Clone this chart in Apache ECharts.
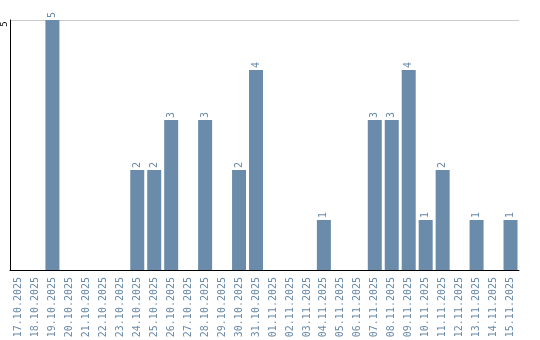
<!DOCTYPE html>
<html><head><meta charset="utf-8">
<script src="https://cdn.jsdelivr.net/npm/echarts@6/dist/echarts.min.js"></script>
<style>html,body{margin:0;padding:0;background:#fff}#c{width:540px;height:340px}</style>
</head><body><div id="c"></div>
<script>
const categories = ["17.10.2025","18.10.2025","19.10.2025","20.10.2025","21.10.2025","22.10.2025","23.10.2025","24.10.2025","25.10.2025","26.10.2025","27.10.2025","28.10.2025","29.10.2025","30.10.2025","31.10.2025","01.11.2025","02.11.2025","03.11.2025","04.11.2025","05.11.2025","06.11.2025","07.11.2025","08.11.2025","09.11.2025","10.11.2025","11.11.2025","12.11.2025","13.11.2025","14.11.2025","15.11.2025"];
const counts = [0,0,5,0,0,0,0,2,2,3,0,3,0,2,4,0,0,0,1,0,0,3,3,4,1,2,0,1,0,1];
const yTicks = [0,5];

const chart = echarts.init(document.getElementById('c'));
chart.setOption({
  animation: false,
  grid: { left: 10, right: 21, top: 20, bottom: 70, outerBoundsMode: 'none', containLabel: false },
  xAxis: {
    type: 'category', data: categories,
    axisLine: { lineStyle: { color: '#000', width: 1 } },
    axisTick: { show: false },
    axisLabel: { rotate: 90, interval: 0, margin: 7, color: '#6a8aa8', fontFamily: 'DejaVu Sans Mono', fontSize: 10 }
  },
  yAxis: {
    type: 'value', min: yTicks[0], max: yTicks[1], interval: 5,
    axisLine: { show: true, lineStyle: { color: '#000', width: 1 } },
    axisTick: { show: false },
    splitLine: { lineStyle: { color: '#cccccc' } },
    axisLabel: { showMinLabel: false, rotate: 90, margin: 5, align: 'center', verticalAlign: 'middle',
      padding: [0, 8, 0, 0], hideOverlap: false,
      color: '#000', fontFamily: 'DejaVu Sans Mono', fontSize: 9 }
  },
  series: [{
    type: 'bar', data: counts.map(v => v === 0 ? null : v),
    barWidth: 14,
    itemStyle: { color: '#6a8caa' },
    label: {
      show: true, position: 'top', rotate: 90, distance: 2, align: 'left', verticalAlign: 'middle',
      color: '#6a8aa8', fontFamily: 'DejaVu Sans Mono', fontSize: 10
    }
  }]
});
</script></body></html>
